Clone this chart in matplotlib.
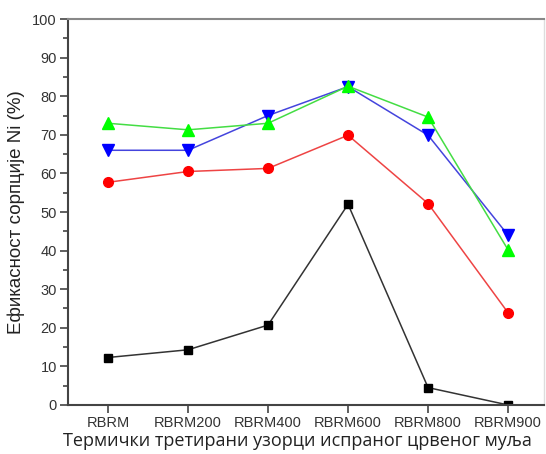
import matplotlib
matplotlib.use('Agg')
import matplotlib.pyplot as plt
from matplotlib.ticker import MultipleLocator

# Samples (thermally treated washed red mud)
samples = ['RBRM', 'RBRM200', 'RBRM400', 'RBRM600', 'RBRM800', 'RBRM900']

# Ni sorption efficiency (%) per series
black_vals = [12.3, 14.3, 20.7, 52.0, 4.5, 0.0]
red_vals = [57.7, 60.5, 61.3, 69.9, 52.2, 23.9]
blue_vals = [66.0, 66.0, 75.0, 82.5, 69.9, 44.0]
green_vals = [73.0, 71.3, 73.0, 82.6, 74.6, 40.2]

fig = plt.figure(figsize=(5.46, 4.54), dpi=100)
ax = fig.add_axes([0.1245, 0.108, 0.872, 0.85])

x = list(range(len(samples)))
ax.plot(x, black_vals, color='#333333', lw=1.1, marker='s', ms=6, mfc='black', mec='black')
ax.plot(x, red_vals, color='#ee4444', lw=1.1, marker='o', ms=7, mfc='#ff0000', mec='#ff0000')
ax.plot(x, blue_vals, color='#4444dd', lw=1.1, marker='v', ms=8, mfc='#0000ff', mec='#0000ff')
ax.plot(x, green_vals, color='#44dd44', lw=1.1, marker='^', ms=8, mfc='#00ff00', mec='#00ff00')

ax.set_xlim(-0.5, 5.45)
ax.set_ylim(0, 100)
ax.set_xticks(x)
ax.set_xticklabels(samples, family='Liberation Sans', fontsize=10.5, color='#333333')
ax.yaxis.set_major_locator(MultipleLocator(10))
ax.yaxis.set_minor_locator(MultipleLocator(5))
for lab in ax.get_yticklabels():
    lab.set_family('Liberation Sans')
    lab.set_fontsize(10.5)
    lab.set_color('#333333')

ax.tick_params(axis='both', which='both', direction='out', color='#444444', width=1.2)
ax.tick_params(axis='both', which='major', length=6, pad=2)
ax.tick_params(axis='y', which='minor', length=3.5)

for side in ['left', 'bottom']:
    ax.spines[side].set_color('#444444')
    ax.spines[side].set_linewidth(1.5)
ax.spines['top'].set_color('#888888')
ax.spines['top'].set_linewidth(1.5)
ax.spines['right'].set_color('#dddddd')
ax.spines['right'].set_linewidth(1.0)

# x label sits slightly left of the axes centre, as in the original
ax.set_xlabel('Термички третирани узорци испраног црвеног муља', family='Open Sans',
              fontsize=13, color='#222222', labelpad=0)
ax.xaxis.set_label_coords(0.482, -0.07)
ax.set_ylabel('Ефикасност сорпције Ni (%)', family='Liberation Sans', fontsize=13.5,
              color='#222222', labelpad=5)

fig.savefig('out.png', dpi=100)
